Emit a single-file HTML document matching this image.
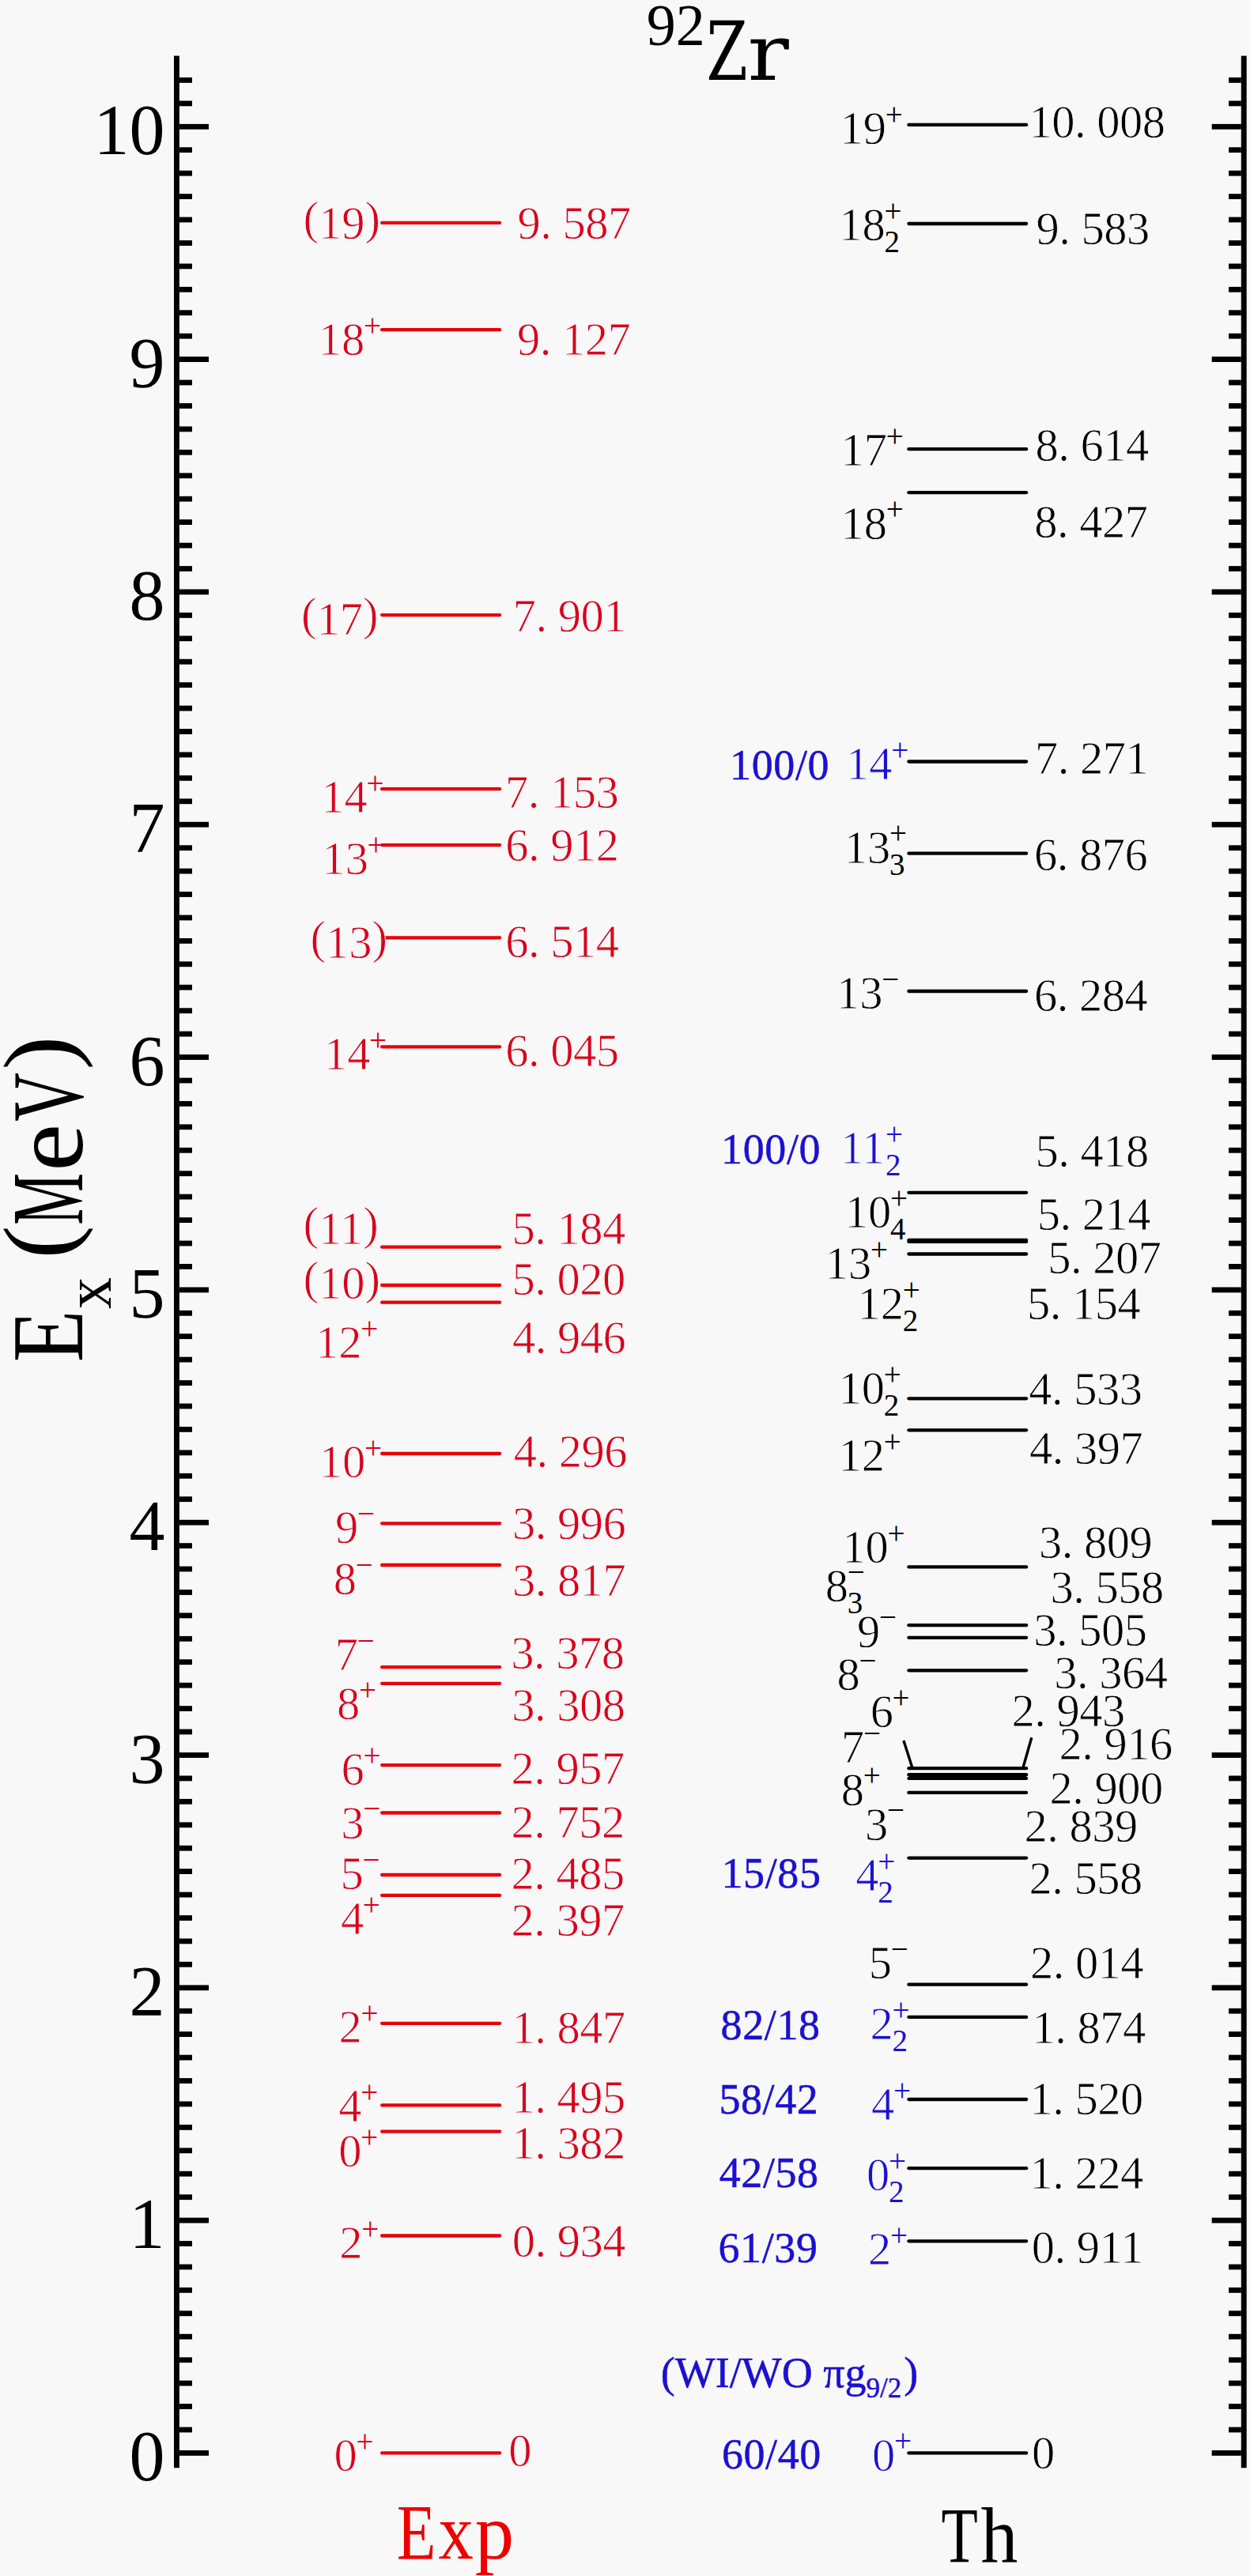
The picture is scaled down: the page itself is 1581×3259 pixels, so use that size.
<!DOCTYPE html>
<html><head><meta charset="utf-8"><title>92Zr level scheme</title>
<style>
html,body{margin:0;padding:0;background:#f8f8f8;}
svg{display:block;}
text{font-family:"Liberation Serif","Times New Roman",serif;}
.th{stroke:#f8f8f8;stroke-width:0.8px;}
.bb{stroke:#1c10d0;stroke-width:0.5px;}
</style></head>
<body>
<svg width="1581" height="3259" viewBox="0 0 1581 3259">
<rect x="0" y="0" width="1581" height="3259" fill="#f8f8f8"/>
<rect x="220.0" y="70.6" width="6.9" height="3051.6" fill="#000"/>
<rect x="1569.8" y="70.6" width="6.9" height="3051.6" fill="#000"/>
<rect x="226.9" y="3100.0" width="37.1" height="6.8" fill="#000"/>
<rect x="1532.7" y="3100.0" width="37.1" height="6.8" fill="#000"/>
<rect x="226.9" y="3070.6" width="16.1" height="6.8" fill="#000"/>
<rect x="1554.1" y="3070.6" width="15.7" height="6.8" fill="#000"/>
<rect x="226.9" y="3041.1" width="16.1" height="6.8" fill="#000"/>
<rect x="1554.1" y="3041.1" width="15.7" height="6.8" fill="#000"/>
<rect x="226.9" y="3011.7" width="16.1" height="6.8" fill="#000"/>
<rect x="1554.1" y="3011.7" width="15.7" height="6.8" fill="#000"/>
<rect x="226.9" y="2982.3" width="16.1" height="6.8" fill="#000"/>
<rect x="1554.1" y="2982.3" width="15.7" height="6.8" fill="#000"/>
<rect x="226.9" y="2952.8" width="16.1" height="6.8" fill="#000"/>
<rect x="1554.1" y="2952.8" width="15.7" height="6.8" fill="#000"/>
<rect x="226.9" y="2923.4" width="16.1" height="6.8" fill="#000"/>
<rect x="1554.1" y="2923.4" width="15.7" height="6.8" fill="#000"/>
<rect x="226.9" y="2894.0" width="16.1" height="6.8" fill="#000"/>
<rect x="1554.1" y="2894.0" width="15.7" height="6.8" fill="#000"/>
<rect x="226.9" y="2864.6" width="16.1" height="6.8" fill="#000"/>
<rect x="1554.1" y="2864.6" width="15.7" height="6.8" fill="#000"/>
<rect x="226.9" y="2835.1" width="16.1" height="6.8" fill="#000"/>
<rect x="1554.1" y="2835.1" width="15.7" height="6.8" fill="#000"/>
<rect x="226.9" y="2805.7" width="37.1" height="6.8" fill="#000"/>
<rect x="1532.7" y="2805.7" width="37.1" height="6.8" fill="#000"/>
<rect x="226.9" y="2776.3" width="16.1" height="6.8" fill="#000"/>
<rect x="1554.1" y="2776.3" width="15.7" height="6.8" fill="#000"/>
<rect x="226.9" y="2746.8" width="16.1" height="6.8" fill="#000"/>
<rect x="1554.1" y="2746.8" width="15.7" height="6.8" fill="#000"/>
<rect x="226.9" y="2717.4" width="16.1" height="6.8" fill="#000"/>
<rect x="1554.1" y="2717.4" width="15.7" height="6.8" fill="#000"/>
<rect x="226.9" y="2688.0" width="16.1" height="6.8" fill="#000"/>
<rect x="1554.1" y="2688.0" width="15.7" height="6.8" fill="#000"/>
<rect x="226.9" y="2658.5" width="16.1" height="6.8" fill="#000"/>
<rect x="1554.1" y="2658.5" width="15.7" height="6.8" fill="#000"/>
<rect x="226.9" y="2629.1" width="16.1" height="6.8" fill="#000"/>
<rect x="1554.1" y="2629.1" width="15.7" height="6.8" fill="#000"/>
<rect x="226.9" y="2599.7" width="16.1" height="6.8" fill="#000"/>
<rect x="1554.1" y="2599.7" width="15.7" height="6.8" fill="#000"/>
<rect x="226.9" y="2570.2" width="16.1" height="6.8" fill="#000"/>
<rect x="1554.1" y="2570.2" width="15.7" height="6.8" fill="#000"/>
<rect x="226.9" y="2540.8" width="16.1" height="6.8" fill="#000"/>
<rect x="1554.1" y="2540.8" width="15.7" height="6.8" fill="#000"/>
<rect x="226.9" y="2511.4" width="37.1" height="6.8" fill="#000"/>
<rect x="1532.7" y="2511.4" width="37.1" height="6.8" fill="#000"/>
<rect x="226.9" y="2481.9" width="16.1" height="6.8" fill="#000"/>
<rect x="1554.1" y="2481.9" width="15.7" height="6.8" fill="#000"/>
<rect x="226.9" y="2452.5" width="16.1" height="6.8" fill="#000"/>
<rect x="1554.1" y="2452.5" width="15.7" height="6.8" fill="#000"/>
<rect x="226.9" y="2423.1" width="16.1" height="6.8" fill="#000"/>
<rect x="1554.1" y="2423.1" width="15.7" height="6.8" fill="#000"/>
<rect x="226.9" y="2393.7" width="16.1" height="6.8" fill="#000"/>
<rect x="1554.1" y="2393.7" width="15.7" height="6.8" fill="#000"/>
<rect x="226.9" y="2364.2" width="16.1" height="6.8" fill="#000"/>
<rect x="1554.1" y="2364.2" width="15.7" height="6.8" fill="#000"/>
<rect x="226.9" y="2334.8" width="16.1" height="6.8" fill="#000"/>
<rect x="1554.1" y="2334.8" width="15.7" height="6.8" fill="#000"/>
<rect x="226.9" y="2305.4" width="16.1" height="6.8" fill="#000"/>
<rect x="1554.1" y="2305.4" width="15.7" height="6.8" fill="#000"/>
<rect x="226.9" y="2275.9" width="16.1" height="6.8" fill="#000"/>
<rect x="1554.1" y="2275.9" width="15.7" height="6.8" fill="#000"/>
<rect x="226.9" y="2246.5" width="16.1" height="6.8" fill="#000"/>
<rect x="1554.1" y="2246.5" width="15.7" height="6.8" fill="#000"/>
<rect x="226.9" y="2217.1" width="37.1" height="6.8" fill="#000"/>
<rect x="1532.7" y="2217.1" width="37.1" height="6.8" fill="#000"/>
<rect x="226.9" y="2187.6" width="16.1" height="6.8" fill="#000"/>
<rect x="1554.1" y="2187.6" width="15.7" height="6.8" fill="#000"/>
<rect x="226.9" y="2158.2" width="16.1" height="6.8" fill="#000"/>
<rect x="1554.1" y="2158.2" width="15.7" height="6.8" fill="#000"/>
<rect x="226.9" y="2128.8" width="16.1" height="6.8" fill="#000"/>
<rect x="1554.1" y="2128.8" width="15.7" height="6.8" fill="#000"/>
<rect x="226.9" y="2099.3" width="16.1" height="6.8" fill="#000"/>
<rect x="1554.1" y="2099.3" width="15.7" height="6.8" fill="#000"/>
<rect x="226.9" y="2069.9" width="16.1" height="6.8" fill="#000"/>
<rect x="1554.1" y="2069.9" width="15.7" height="6.8" fill="#000"/>
<rect x="226.9" y="2040.5" width="16.1" height="6.8" fill="#000"/>
<rect x="1554.1" y="2040.5" width="15.7" height="6.8" fill="#000"/>
<rect x="226.9" y="2011.1" width="16.1" height="6.8" fill="#000"/>
<rect x="1554.1" y="2011.1" width="15.7" height="6.8" fill="#000"/>
<rect x="226.9" y="1981.6" width="16.1" height="6.8" fill="#000"/>
<rect x="1554.1" y="1981.6" width="15.7" height="6.8" fill="#000"/>
<rect x="226.9" y="1952.2" width="16.1" height="6.8" fill="#000"/>
<rect x="1554.1" y="1952.2" width="15.7" height="6.8" fill="#000"/>
<rect x="226.9" y="1922.8" width="37.1" height="6.8" fill="#000"/>
<rect x="1532.7" y="1922.8" width="37.1" height="6.8" fill="#000"/>
<rect x="226.9" y="1893.3" width="16.1" height="6.8" fill="#000"/>
<rect x="1554.1" y="1893.3" width="15.7" height="6.8" fill="#000"/>
<rect x="226.9" y="1863.9" width="16.1" height="6.8" fill="#000"/>
<rect x="1554.1" y="1863.9" width="15.7" height="6.8" fill="#000"/>
<rect x="226.9" y="1834.5" width="16.1" height="6.8" fill="#000"/>
<rect x="1554.1" y="1834.5" width="15.7" height="6.8" fill="#000"/>
<rect x="226.9" y="1805.0" width="16.1" height="6.8" fill="#000"/>
<rect x="1554.1" y="1805.0" width="15.7" height="6.8" fill="#000"/>
<rect x="226.9" y="1775.6" width="16.1" height="6.8" fill="#000"/>
<rect x="1554.1" y="1775.6" width="15.7" height="6.8" fill="#000"/>
<rect x="226.9" y="1746.2" width="16.1" height="6.8" fill="#000"/>
<rect x="1554.1" y="1746.2" width="15.7" height="6.8" fill="#000"/>
<rect x="226.9" y="1716.7" width="16.1" height="6.8" fill="#000"/>
<rect x="1554.1" y="1716.7" width="15.7" height="6.8" fill="#000"/>
<rect x="226.9" y="1687.3" width="16.1" height="6.8" fill="#000"/>
<rect x="1554.1" y="1687.3" width="15.7" height="6.8" fill="#000"/>
<rect x="226.9" y="1657.9" width="16.1" height="6.8" fill="#000"/>
<rect x="1554.1" y="1657.9" width="15.7" height="6.8" fill="#000"/>
<rect x="226.9" y="1628.5" width="37.1" height="6.8" fill="#000"/>
<rect x="1532.7" y="1628.5" width="37.1" height="6.8" fill="#000"/>
<rect x="226.9" y="1599.0" width="16.1" height="6.8" fill="#000"/>
<rect x="1554.1" y="1599.0" width="15.7" height="6.8" fill="#000"/>
<rect x="226.9" y="1569.6" width="16.1" height="6.8" fill="#000"/>
<rect x="1554.1" y="1569.6" width="15.7" height="6.8" fill="#000"/>
<rect x="226.9" y="1540.2" width="16.1" height="6.8" fill="#000"/>
<rect x="1554.1" y="1540.2" width="15.7" height="6.8" fill="#000"/>
<rect x="226.9" y="1510.7" width="16.1" height="6.8" fill="#000"/>
<rect x="1554.1" y="1510.7" width="15.7" height="6.8" fill="#000"/>
<rect x="226.9" y="1481.3" width="16.1" height="6.8" fill="#000"/>
<rect x="1554.1" y="1481.3" width="15.7" height="6.8" fill="#000"/>
<rect x="226.9" y="1451.9" width="16.1" height="6.8" fill="#000"/>
<rect x="1554.1" y="1451.9" width="15.7" height="6.8" fill="#000"/>
<rect x="226.9" y="1422.4" width="16.1" height="6.8" fill="#000"/>
<rect x="1554.1" y="1422.4" width="15.7" height="6.8" fill="#000"/>
<rect x="226.9" y="1393.0" width="16.1" height="6.8" fill="#000"/>
<rect x="1554.1" y="1393.0" width="15.7" height="6.8" fill="#000"/>
<rect x="226.9" y="1363.6" width="16.1" height="6.8" fill="#000"/>
<rect x="1554.1" y="1363.6" width="15.7" height="6.8" fill="#000"/>
<rect x="226.9" y="1334.1" width="37.1" height="6.8" fill="#000"/>
<rect x="1532.7" y="1334.1" width="37.1" height="6.8" fill="#000"/>
<rect x="226.9" y="1304.7" width="16.1" height="6.8" fill="#000"/>
<rect x="1554.1" y="1304.7" width="15.7" height="6.8" fill="#000"/>
<rect x="226.9" y="1275.3" width="16.1" height="6.8" fill="#000"/>
<rect x="1554.1" y="1275.3" width="15.7" height="6.8" fill="#000"/>
<rect x="226.9" y="1245.8" width="16.1" height="6.8" fill="#000"/>
<rect x="1554.1" y="1245.8" width="15.7" height="6.8" fill="#000"/>
<rect x="226.9" y="1216.4" width="16.1" height="6.8" fill="#000"/>
<rect x="1554.1" y="1216.4" width="15.7" height="6.8" fill="#000"/>
<rect x="226.9" y="1187.0" width="16.1" height="6.8" fill="#000"/>
<rect x="1554.1" y="1187.0" width="15.7" height="6.8" fill="#000"/>
<rect x="226.9" y="1157.6" width="16.1" height="6.8" fill="#000"/>
<rect x="1554.1" y="1157.6" width="15.7" height="6.8" fill="#000"/>
<rect x="226.9" y="1128.1" width="16.1" height="6.8" fill="#000"/>
<rect x="1554.1" y="1128.1" width="15.7" height="6.8" fill="#000"/>
<rect x="226.9" y="1098.7" width="16.1" height="6.8" fill="#000"/>
<rect x="1554.1" y="1098.7" width="15.7" height="6.8" fill="#000"/>
<rect x="226.9" y="1069.3" width="16.1" height="6.8" fill="#000"/>
<rect x="1554.1" y="1069.3" width="15.7" height="6.8" fill="#000"/>
<rect x="226.9" y="1039.8" width="37.1" height="6.8" fill="#000"/>
<rect x="1532.7" y="1039.8" width="37.1" height="6.8" fill="#000"/>
<rect x="226.9" y="1010.4" width="16.1" height="6.8" fill="#000"/>
<rect x="1554.1" y="1010.4" width="15.7" height="6.8" fill="#000"/>
<rect x="226.9" y="981.0" width="16.1" height="6.8" fill="#000"/>
<rect x="1554.1" y="981.0" width="15.7" height="6.8" fill="#000"/>
<rect x="226.9" y="951.5" width="16.1" height="6.8" fill="#000"/>
<rect x="1554.1" y="951.5" width="15.7" height="6.8" fill="#000"/>
<rect x="226.9" y="922.1" width="16.1" height="6.8" fill="#000"/>
<rect x="1554.1" y="922.1" width="15.7" height="6.8" fill="#000"/>
<rect x="226.9" y="892.7" width="16.1" height="6.8" fill="#000"/>
<rect x="1554.1" y="892.7" width="15.7" height="6.8" fill="#000"/>
<rect x="226.9" y="863.2" width="16.1" height="6.8" fill="#000"/>
<rect x="1554.1" y="863.2" width="15.7" height="6.8" fill="#000"/>
<rect x="226.9" y="833.8" width="16.1" height="6.8" fill="#000"/>
<rect x="1554.1" y="833.8" width="15.7" height="6.8" fill="#000"/>
<rect x="226.9" y="804.4" width="16.1" height="6.8" fill="#000"/>
<rect x="1554.1" y="804.4" width="15.7" height="6.8" fill="#000"/>
<rect x="226.9" y="775.0" width="16.1" height="6.8" fill="#000"/>
<rect x="1554.1" y="775.0" width="15.7" height="6.8" fill="#000"/>
<rect x="226.9" y="745.5" width="37.1" height="6.8" fill="#000"/>
<rect x="1532.7" y="745.5" width="37.1" height="6.8" fill="#000"/>
<rect x="226.9" y="716.1" width="16.1" height="6.8" fill="#000"/>
<rect x="1554.1" y="716.1" width="15.7" height="6.8" fill="#000"/>
<rect x="226.9" y="686.7" width="16.1" height="6.8" fill="#000"/>
<rect x="1554.1" y="686.7" width="15.7" height="6.8" fill="#000"/>
<rect x="226.9" y="657.2" width="16.1" height="6.8" fill="#000"/>
<rect x="1554.1" y="657.2" width="15.7" height="6.8" fill="#000"/>
<rect x="226.9" y="627.8" width="16.1" height="6.8" fill="#000"/>
<rect x="1554.1" y="627.8" width="15.7" height="6.8" fill="#000"/>
<rect x="226.9" y="598.4" width="16.1" height="6.8" fill="#000"/>
<rect x="1554.1" y="598.4" width="15.7" height="6.8" fill="#000"/>
<rect x="226.9" y="568.9" width="16.1" height="6.8" fill="#000"/>
<rect x="1554.1" y="568.9" width="15.7" height="6.8" fill="#000"/>
<rect x="226.9" y="539.5" width="16.1" height="6.8" fill="#000"/>
<rect x="1554.1" y="539.5" width="15.7" height="6.8" fill="#000"/>
<rect x="226.9" y="510.1" width="16.1" height="6.8" fill="#000"/>
<rect x="1554.1" y="510.1" width="15.7" height="6.8" fill="#000"/>
<rect x="226.9" y="480.6" width="16.1" height="6.8" fill="#000"/>
<rect x="1554.1" y="480.6" width="15.7" height="6.8" fill="#000"/>
<rect x="226.9" y="451.2" width="37.1" height="6.8" fill="#000"/>
<rect x="1532.7" y="451.2" width="37.1" height="6.8" fill="#000"/>
<rect x="226.9" y="421.8" width="16.1" height="6.8" fill="#000"/>
<rect x="1554.1" y="421.8" width="15.7" height="6.8" fill="#000"/>
<rect x="226.9" y="392.3" width="16.1" height="6.8" fill="#000"/>
<rect x="1554.1" y="392.3" width="15.7" height="6.8" fill="#000"/>
<rect x="226.9" y="362.9" width="16.1" height="6.8" fill="#000"/>
<rect x="1554.1" y="362.9" width="15.7" height="6.8" fill="#000"/>
<rect x="226.9" y="333.5" width="16.1" height="6.8" fill="#000"/>
<rect x="1554.1" y="333.5" width="15.7" height="6.8" fill="#000"/>
<rect x="226.9" y="304.1" width="16.1" height="6.8" fill="#000"/>
<rect x="1554.1" y="304.1" width="15.7" height="6.8" fill="#000"/>
<rect x="226.9" y="274.6" width="16.1" height="6.8" fill="#000"/>
<rect x="1554.1" y="274.6" width="15.7" height="6.8" fill="#000"/>
<rect x="226.9" y="245.2" width="16.1" height="6.8" fill="#000"/>
<rect x="1554.1" y="245.2" width="15.7" height="6.8" fill="#000"/>
<rect x="226.9" y="215.8" width="16.1" height="6.8" fill="#000"/>
<rect x="1554.1" y="215.8" width="15.7" height="6.8" fill="#000"/>
<rect x="226.9" y="186.3" width="16.1" height="6.8" fill="#000"/>
<rect x="1554.1" y="186.3" width="15.7" height="6.8" fill="#000"/>
<rect x="226.9" y="156.9" width="37.1" height="6.8" fill="#000"/>
<rect x="1532.7" y="156.9" width="37.1" height="6.8" fill="#000"/>
<rect x="226.9" y="127.5" width="16.1" height="6.8" fill="#000"/>
<rect x="1554.1" y="127.5" width="15.7" height="6.8" fill="#000"/>
<rect x="226.9" y="98.0" width="16.1" height="6.8" fill="#000"/>
<rect x="1554.1" y="98.0" width="15.7" height="6.8" fill="#000"/>
<text x="208.4" y="3138.4" font-size="90" fill="#000" text-anchor="end">0</text>
<text x="208.4" y="2844.1" font-size="90" fill="#000" text-anchor="end">1</text>
<text x="208.4" y="2549.8" font-size="90" fill="#000" text-anchor="end">2</text>
<text x="208.4" y="2255.5" font-size="90" fill="#000" text-anchor="end">3</text>
<text x="208.4" y="1961.2" font-size="90" fill="#000" text-anchor="end">4</text>
<text x="208.4" y="1666.9" font-size="90" fill="#000" text-anchor="end">5</text>
<text x="208.4" y="1372.5" font-size="90" fill="#000" text-anchor="end">6</text>
<text x="208.4" y="1078.2" font-size="90" fill="#000" text-anchor="end">7</text>
<text x="208.4" y="783.9" font-size="90" fill="#000" text-anchor="end">8</text>
<text x="208.4" y="489.6" font-size="90" fill="#000" text-anchor="end">9</text>
<text x="208.4" y="195.3" font-size="90" fill="#000" text-anchor="end">10</text>
<text x="817.8" y="56.8" font-size="74" fill="#000">92</text>
<text transform="translate(893.4,101.0) scale(0.731,1)" font-size="102.6" fill="#000" style="font-family:'DejaVu Serif',serif">Z</text>
<text transform="translate(945.6,101.0) scale(1.106,1)" font-size="99" fill="#000" style="font-family:'DejaVu Serif',serif">r</text>
<text transform="translate(104.2,1723.2) rotate(-90) scale(0.827,1)" font-size="130" fill="#000">E</text>
<text transform="translate(140.0,1655.9) rotate(-90) scale(0.943,1)" font-size="85" fill="#000">x</text>
<text transform="translate(90.6,1592.5) rotate(-90) scale(1.018,1)" font-size="124.3" fill="#000">(</text>
<text transform="translate(104.2,1549.7) rotate(-90) scale(0.569,1)" font-size="130" fill="#000">M</text>
<text transform="translate(104.2,1482.0) rotate(-90) scale(1.045,1)" font-size="130" fill="#000">e</text>
<text transform="translate(104.2,1418.8) rotate(-90) scale(0.657,1)" font-size="130" fill="#000">V</text>
<text transform="translate(90.6,1353.7) rotate(-90) scale(1.043,1)" font-size="124.3" fill="#000">)</text>
<text transform="translate(501.7,3237.2) scale(0.812,1)" font-size="100" fill="#ee0000">E</text>
<text transform="translate(554.4,3237.2) scale(0.885,1)" font-size="100" fill="#ee0000">x</text>
<text transform="translate(600.8,3237.2) scale(0.989,1)" font-size="100" fill="#ee0000">p</text>
<text transform="translate(1190.6,3241.1) scale(0.758,1)" font-size="100" fill="#000">T</text>
<text transform="translate(1240.5,3241.1) scale(0.937,1)" font-size="100" fill="#000">h</text>
<line x1="483.1" y1="281.9" x2="632.1" y2="281.9" stroke="#e8000a" stroke-width="4.3" stroke-linecap="round"/>
<line x1="483.1" y1="417.2" x2="632.1" y2="417.2" stroke="#e8000a" stroke-width="4.3" stroke-linecap="round"/>
<line x1="483.1" y1="778.1" x2="632.1" y2="778.1" stroke="#e8000a" stroke-width="4.3" stroke-linecap="round"/>
<line x1="483.1" y1="998.2" x2="632.1" y2="998.2" stroke="#e8000a" stroke-width="4.3" stroke-linecap="round"/>
<line x1="483.1" y1="1069.1" x2="632.1" y2="1069.1" stroke="#e8000a" stroke-width="4.3" stroke-linecap="round"/>
<line x1="483.1" y1="1186.3" x2="632.1" y2="1186.3" stroke="#e8000a" stroke-width="4.3" stroke-linecap="round"/>
<line x1="483.1" y1="1324.3" x2="632.1" y2="1324.3" stroke="#e8000a" stroke-width="4.3" stroke-linecap="round"/>
<line x1="483.1" y1="1577.7" x2="632.1" y2="1577.7" stroke="#e8000a" stroke-width="4.3" stroke-linecap="round"/>
<line x1="483.1" y1="1626.0" x2="632.1" y2="1626.0" stroke="#e8000a" stroke-width="4.3" stroke-linecap="round"/>
<line x1="483.1" y1="1647.7" x2="632.1" y2="1647.7" stroke="#e8000a" stroke-width="4.3" stroke-linecap="round"/>
<line x1="483.1" y1="1839.0" x2="632.1" y2="1839.0" stroke="#e8000a" stroke-width="4.3" stroke-linecap="round"/>
<line x1="483.1" y1="1927.3" x2="632.1" y2="1927.3" stroke="#e8000a" stroke-width="4.3" stroke-linecap="round"/>
<line x1="483.1" y1="1980.0" x2="632.1" y2="1980.0" stroke="#e8000a" stroke-width="4.3" stroke-linecap="round"/>
<line x1="483.1" y1="2109.2" x2="632.1" y2="2109.2" stroke="#e8000a" stroke-width="4.3" stroke-linecap="round"/>
<line x1="483.1" y1="2129.8" x2="632.1" y2="2129.8" stroke="#e8000a" stroke-width="4.3" stroke-linecap="round"/>
<line x1="483.1" y1="2233.1" x2="632.1" y2="2233.1" stroke="#e8000a" stroke-width="4.3" stroke-linecap="round"/>
<line x1="483.1" y1="2293.5" x2="632.1" y2="2293.5" stroke="#e8000a" stroke-width="4.3" stroke-linecap="round"/>
<line x1="483.1" y1="2372.0" x2="632.1" y2="2372.0" stroke="#e8000a" stroke-width="4.3" stroke-linecap="round"/>
<line x1="483.1" y1="2397.9" x2="632.1" y2="2397.9" stroke="#e8000a" stroke-width="4.3" stroke-linecap="round"/>
<line x1="483.1" y1="2559.8" x2="632.1" y2="2559.8" stroke="#e8000a" stroke-width="4.3" stroke-linecap="round"/>
<line x1="483.1" y1="2663.4" x2="632.1" y2="2663.4" stroke="#e8000a" stroke-width="4.3" stroke-linecap="round"/>
<line x1="483.1" y1="2696.7" x2="632.1" y2="2696.7" stroke="#e8000a" stroke-width="4.3" stroke-linecap="round"/>
<line x1="483.1" y1="2828.5" x2="632.1" y2="2828.5" stroke="#e8000a" stroke-width="4.3" stroke-linecap="round"/>
<line x1="483.1" y1="3103.4" x2="632.1" y2="3103.4" stroke="#e8000a" stroke-width="4.3" stroke-linecap="round"/>
<line x1="1149.4" y1="157.9" x2="1298.1" y2="157.9" stroke="#000" stroke-width="4.3" stroke-linecap="round"/>
<line x1="1149.4" y1="283.0" x2="1298.1" y2="283.0" stroke="#000" stroke-width="4.3" stroke-linecap="round"/>
<line x1="1149.4" y1="568.2" x2="1298.1" y2="568.2" stroke="#000" stroke-width="4.3" stroke-linecap="round"/>
<line x1="1149.4" y1="623.2" x2="1298.1" y2="623.2" stroke="#000" stroke-width="4.3" stroke-linecap="round"/>
<line x1="1149.4" y1="963.5" x2="1298.1" y2="963.5" stroke="#000" stroke-width="4.3" stroke-linecap="round"/>
<line x1="1149.4" y1="1079.7" x2="1298.1" y2="1079.7" stroke="#000" stroke-width="4.3" stroke-linecap="round"/>
<line x1="1149.4" y1="1254.0" x2="1298.1" y2="1254.0" stroke="#000" stroke-width="4.3" stroke-linecap="round"/>
<line x1="1149.4" y1="1508.8" x2="1298.1" y2="1508.8" stroke="#000" stroke-width="4.3" stroke-linecap="round"/>
<line x1="1149.4" y1="1568.9" x2="1298.1" y2="1568.9" stroke="#000" stroke-width="4.3" stroke-linecap="round"/>
<line x1="1149.4" y1="1570.9" x2="1298.1" y2="1570.9" stroke="#000" stroke-width="4.3" stroke-linecap="round"/>
<line x1="1149.4" y1="1586.5" x2="1298.1" y2="1586.5" stroke="#000" stroke-width="4.3" stroke-linecap="round"/>
<line x1="1149.4" y1="1769.3" x2="1298.1" y2="1769.3" stroke="#000" stroke-width="4.3" stroke-linecap="round"/>
<line x1="1149.4" y1="1809.3" x2="1298.1" y2="1809.3" stroke="#000" stroke-width="4.3" stroke-linecap="round"/>
<line x1="1149.4" y1="1982.4" x2="1298.1" y2="1982.4" stroke="#000" stroke-width="4.3" stroke-linecap="round"/>
<line x1="1149.4" y1="2056.2" x2="1298.1" y2="2056.2" stroke="#000" stroke-width="4.3" stroke-linecap="round"/>
<line x1="1149.4" y1="2071.8" x2="1298.1" y2="2071.8" stroke="#000" stroke-width="4.3" stroke-linecap="round"/>
<line x1="1149.4" y1="2113.3" x2="1298.1" y2="2113.3" stroke="#000" stroke-width="4.3" stroke-linecap="round"/>
<line x1="1149.4" y1="2237.2" x2="1298.1" y2="2237.2" stroke="#000" stroke-width="4.3" stroke-linecap="round"/>
<line x1="1149.4" y1="2245.2" x2="1298.1" y2="2245.2" stroke="#000" stroke-width="4.3" stroke-linecap="round"/>
<line x1="1149.4" y1="2249.9" x2="1298.1" y2="2249.9" stroke="#000" stroke-width="4.3" stroke-linecap="round"/>
<line x1="1149.4" y1="2267.9" x2="1298.1" y2="2267.9" stroke="#000" stroke-width="4.3" stroke-linecap="round"/>
<line x1="1149.4" y1="2350.6" x2="1298.1" y2="2350.6" stroke="#000" stroke-width="4.3" stroke-linecap="round"/>
<line x1="1149.4" y1="2510.7" x2="1298.1" y2="2510.7" stroke="#000" stroke-width="4.3" stroke-linecap="round"/>
<line x1="1149.4" y1="2551.9" x2="1298.1" y2="2551.9" stroke="#000" stroke-width="4.3" stroke-linecap="round"/>
<line x1="1149.4" y1="2656.0" x2="1298.1" y2="2656.0" stroke="#000" stroke-width="4.3" stroke-linecap="round"/>
<line x1="1149.4" y1="2743.2" x2="1298.1" y2="2743.2" stroke="#000" stroke-width="4.3" stroke-linecap="round"/>
<line x1="1149.4" y1="2835.3" x2="1298.1" y2="2835.3" stroke="#000" stroke-width="4.3" stroke-linecap="round"/>
<line x1="1149.4" y1="3103.4" x2="1298.1" y2="3103.4" stroke="#000" stroke-width="4.3" stroke-linecap="round"/>
<rect x="1149.4" y="2245.2" width="148.7" height="4.7" fill="#000"/>
<line x1="1142.9" y1="2202.0" x2="1153.6" y2="2235.5" stroke="#000" stroke-width="3.4" stroke-linecap="butt"/>
<line x1="1304.8" y1="2198.2" x2="1294.2" y2="2235.5" stroke="#000" stroke-width="3.4" stroke-linecap="butt"/>
<text x="383.4" y="296.0" font-size="58.5" fill="#d8001c" class="th">(<tspan dy="6">19</tspan><tspan dy="-6">)</tspan></text>
<text x="654.4" y="302.0" font-size="58.5" fill="#d8001c" letter-spacing="-0.5" class="th">9. 587</text>
<text x="402.7" y="449.0" font-size="58.5" fill="#d8001c" class="th">18</text>
<text x="459.9" y="424.9" font-size="39.0" fill="#d8001c">+</text>
<text x="654.1" y="449.0" font-size="58.5" fill="#d8001c" letter-spacing="-0.5" class="th">9. 127</text>
<text x="381.1" y="797.0" font-size="58.5" fill="#d8001c" class="th">(<tspan dy="6">17</tspan><tspan dy="-6">)</tspan></text>
<text x="648.7" y="798.7" font-size="58.5" fill="#d8001c" letter-spacing="-0.5" class="th">7. 901</text>
<text x="406.3" y="1027.8" font-size="58.5" fill="#d8001c" class="th">14</text>
<text x="463.5" y="1003.7" font-size="39.0" fill="#d8001c">+</text>
<text x="639.0" y="1022.0" font-size="58.5" fill="#d8001c" letter-spacing="-0.5" class="th">7. 153</text>
<text x="407.4" y="1105.7" font-size="58.5" fill="#d8001c" class="th">13</text>
<text x="464.6" y="1081.6" font-size="39.0" fill="#d8001c">+</text>
<text x="639.3" y="1088.8" font-size="58.5" fill="#d8001c" letter-spacing="-0.5" class="th">6. 912</text>
<text x="392.6" y="1206.0" font-size="58.5" fill="#d8001c" class="th">(<tspan dy="6">13</tspan><tspan dy="-6">)</tspan></text>
<text x="639.3" y="1211.2" font-size="58.5" fill="#d8001c" letter-spacing="-0.5" class="th">6. 514</text>
<text x="409.9" y="1352.8" font-size="58.5" fill="#d8001c" class="th">14</text>
<text x="467.1" y="1328.7" font-size="39.0" fill="#d8001c">+</text>
<text x="639.3" y="1348.7" font-size="58.5" fill="#d8001c" letter-spacing="-0.5" class="th">6. 045</text>
<text x="383.4" y="1567.8" font-size="58.5" fill="#d8001c" class="th">(<tspan dy="6">11</tspan><tspan dy="-6">)</tspan></text>
<text x="647.4" y="1574.4" font-size="58.5" fill="#d8001c" letter-spacing="-0.5" class="th">5. 184</text>
<text x="383.4" y="1636.8" font-size="58.5" fill="#d8001c" class="th">(<tspan dy="6">10</tspan><tspan dy="-6">)</tspan></text>
<text x="647.4" y="1638.1" font-size="58.5" fill="#d8001c" letter-spacing="-0.5" class="th">5. 020</text>
<text x="399.1" y="1717.8" font-size="58.5" fill="#d8001c" class="th">12</text>
<text x="456.3" y="1693.7" font-size="39.0" fill="#d8001c">+</text>
<text x="647.9" y="1711.9" font-size="58.5" fill="#d8001c" letter-spacing="-0.5" class="th">4. 946</text>
<text x="403.8" y="1868.8" font-size="58.5" fill="#d8001c" class="th">10</text>
<text x="461.0" y="1844.7" font-size="39.0" fill="#d8001c">+</text>
<text x="649.7" y="1855.8" font-size="58.5" fill="#d8001c" letter-spacing="-0.5" class="th">4. 296</text>
<text x="423.9" y="1952.3" font-size="58.5" fill="#d8001c" class="th">9</text>
<text x="451.9" y="1928.2" font-size="39.0" fill="#d8001c">−</text>
<text x="648.0" y="1946.9" font-size="58.5" fill="#d8001c" letter-spacing="-0.5" class="th">3. 996</text>
<text x="421.8" y="2017.1" font-size="58.5" fill="#d8001c" class="th">8</text>
<text x="449.7" y="1993.0" font-size="39.0" fill="#d8001c">−</text>
<text x="648.0" y="2019.0" font-size="58.5" fill="#d8001c" letter-spacing="-0.5" class="th">3. 817</text>
<text x="423.7" y="2113.0" font-size="58.5" fill="#d8001c" class="th">7</text>
<text x="451.7" y="2088.9" font-size="39.0" fill="#d8001c">−</text>
<text x="646.2" y="2111.4" font-size="58.5" fill="#d8001c" letter-spacing="-0.5" class="th">3. 378</text>
<text x="426.1" y="2175.1" font-size="58.5" fill="#d8001c" class="th">8</text>
<text x="454.0" y="2151.0" font-size="39.0" fill="#d8001c">+</text>
<text x="647.2" y="2176.9" font-size="58.5" fill="#d8001c" letter-spacing="-0.5" class="th">3. 308</text>
<text x="431.5" y="2257.9" font-size="58.5" fill="#d8001c" class="th">6</text>
<text x="459.4" y="2233.8" font-size="39.0" fill="#d8001c">+</text>
<text x="646.4" y="2256.6" font-size="58.5" fill="#d8001c" letter-spacing="-0.5" class="th">2. 957</text>
<text x="431.2" y="2325.5" font-size="58.5" fill="#d8001c" class="th">3</text>
<text x="459.2" y="2301.4" font-size="39.0" fill="#d8001c">−</text>
<text x="646.4" y="2325.0" font-size="58.5" fill="#d8001c" letter-spacing="-0.5" class="th">2. 752</text>
<text x="430.6" y="2390.4" font-size="58.5" fill="#d8001c" class="th">5</text>
<text x="458.6" y="2366.3" font-size="39.0" fill="#d8001c">−</text>
<text x="646.4" y="2389.8" font-size="58.5" fill="#d8001c" letter-spacing="-0.5" class="th">2. 485</text>
<text x="430.9" y="2447.4" font-size="58.5" fill="#d8001c" class="th">4</text>
<text x="458.8" y="2423.3" font-size="39.0" fill="#d8001c">+</text>
<text x="646.4" y="2448.6" font-size="58.5" fill="#d8001c" letter-spacing="-0.5" class="th">2. 397</text>
<text x="428.6" y="2584.3" font-size="58.5" fill="#d8001c" class="th">2</text>
<text x="456.6" y="2560.2" font-size="39.0" fill="#d8001c">+</text>
<text x="647.5" y="2585.4" font-size="58.5" fill="#d8001c" letter-spacing="-0.5" class="th">1. 847</text>
<text x="428.3" y="2684.4" font-size="58.5" fill="#d8001c" class="th">4</text>
<text x="456.2" y="2660.3" font-size="39.0" fill="#d8001c">+</text>
<text x="647.5" y="2672.9" font-size="58.5" fill="#d8001c" letter-spacing="-0.5" class="th">1. 495</text>
<text x="428.3" y="2740.8" font-size="58.5" fill="#d8001c" class="th">0</text>
<text x="456.2" y="2716.7" font-size="39.0" fill="#d8001c">+</text>
<text x="647.5" y="2730.5" font-size="58.5" fill="#d8001c" letter-spacing="-0.5" class="th">1. 382</text>
<text x="429.3" y="2857.3" font-size="58.5" fill="#d8001c" class="th">2</text>
<text x="457.3" y="2833.2" font-size="39.0" fill="#d8001c">+</text>
<text x="647.8" y="2854.6" font-size="58.5" fill="#d8001c" letter-spacing="-0.5" class="th">0. 934</text>
<text x="422.5" y="3125.7" font-size="58.5" fill="#d8001c" class="th">0</text>
<text x="450.4" y="3101.6" font-size="39.0" fill="#d8001c">+</text>
<text x="643.2" y="3120.3" font-size="58.5" fill="#d8001c" letter-spacing="-0.5" class="th">0</text>
<text x="1062.5" y="182.3" font-size="58.5" fill="#000" class="th">19</text>
<text x="1119.7" y="158.2" font-size="39.0" fill="#000">+</text>
<text x="1301.4" y="174.2" font-size="58.5" fill="#000" letter-spacing="-0.5" class="th">10. 008</text>
<text x="1061.2" y="304.1" font-size="58.5" fill="#000" class="th">18</text>
<text x="1118.4" y="280.0" font-size="39.0" fill="#000">+</text>
<text x="1118.4" y="319.1" font-size="39.0" fill="#000">2</text>
<text x="1310.5" y="308.5" font-size="58.5" fill="#000" letter-spacing="-0.5" class="th">9. 583</text>
<text x="1063.6" y="589.2" font-size="58.5" fill="#000" class="th">17</text>
<text x="1120.8" y="565.1" font-size="39.0" fill="#000">+</text>
<text x="1309.4" y="583.3" font-size="58.5" fill="#000" letter-spacing="-0.5" class="th">8. 614</text>
<text x="1063.6" y="681.5" font-size="58.5" fill="#000" class="th">18</text>
<text x="1120.8" y="657.4" font-size="39.0" fill="#000">+</text>
<text x="1308.3" y="680.1" font-size="58.5" fill="#000" letter-spacing="-0.5" class="th">8. 427</text>
<text x="1070.1" y="986.4" font-size="58.5" fill="#1c10d0" class="th">14</text>
<text x="1127.3" y="962.3" font-size="39.0" fill="#1c10d0">+</text>
<text x="1308.9" y="979.2" font-size="58.5" fill="#000" letter-spacing="-0.5" class="th">7. 271</text>
<text x="1067.7" y="1091.5" font-size="58.5" fill="#000" class="th">13</text>
<text x="1124.9" y="1067.4" font-size="39.0" fill="#000">+</text>
<text x="1124.9" y="1106.5" font-size="39.0" fill="#000">3</text>
<text x="1308.0" y="1101.1" font-size="58.5" fill="#000" letter-spacing="-0.5" class="th">6. 876</text>
<text x="1058.1" y="1276.4" font-size="58.5" fill="#000" class="th">13</text>
<text x="1115.3" y="1252.3" font-size="39.0" fill="#000">−</text>
<text x="1308.0" y="1279.3" font-size="58.5" fill="#000" letter-spacing="-0.5" class="th">6. 284</text>
<text x="1062.9" y="1472.0" font-size="58.5" fill="#1c10d0" class="th">11</text>
<text x="1120.1" y="1447.9" font-size="39.0" fill="#1c10d0">+</text>
<text x="1120.1" y="1487.0" font-size="39.0" fill="#1c10d0">2</text>
<text x="1309.4" y="1476.3" font-size="58.5" fill="#000" letter-spacing="-0.5" class="th">5. 418</text>
<text x="1068.7" y="1553.1" font-size="58.5" fill="#000" class="th">10</text>
<text x="1125.9" y="1529.0" font-size="39.0" fill="#000">+</text>
<text x="1125.9" y="1568.1" font-size="39.0" fill="#000">4</text>
<text x="1311.8" y="1556.0" font-size="58.5" fill="#000" letter-spacing="-0.5" class="th">5. 214</text>
<text x="1043.7" y="1617.9" font-size="58.5" fill="#000" class="th">13</text>
<text x="1100.9" y="1593.8" font-size="39.0" fill="#000">+</text>
<text x="1325.3" y="1611.2" font-size="58.5" fill="#000" letter-spacing="-0.5" class="th">5. 207</text>
<text x="1084.5" y="1668.8" font-size="58.5" fill="#000" class="th">12</text>
<text x="1141.7" y="1644.7" font-size="39.0" fill="#000">+</text>
<text x="1141.7" y="1683.8" font-size="39.0" fill="#000">2</text>
<text x="1298.9" y="1668.8" font-size="58.5" fill="#000" letter-spacing="-0.5" class="th">5. 154</text>
<text x="1060.5" y="1776.3" font-size="58.5" fill="#000" class="th">10</text>
<text x="1117.7" y="1752.2" font-size="39.0" fill="#000">+</text>
<text x="1117.7" y="1791.3" font-size="39.0" fill="#000">2</text>
<text x="1301.2" y="1777.3" font-size="58.5" fill="#000" letter-spacing="-0.5" class="th">4. 533</text>
<text x="1060.5" y="1860.8" font-size="58.5" fill="#000" class="th">12</text>
<text x="1117.7" y="1836.7" font-size="39.0" fill="#000">+</text>
<text x="1302.1" y="1852.2" font-size="58.5" fill="#000" letter-spacing="-0.5" class="th">4. 397</text>
<text x="1065.3" y="1977.0" font-size="58.5" fill="#000" class="th">10</text>
<text x="1122.5" y="1952.9" font-size="39.0" fill="#000">+</text>
<text x="1313.9" y="1970.7" font-size="58.5" fill="#000" letter-spacing="-0.5" class="th">3. 809</text>
<text x="1043.8" y="2026.3" font-size="58.5" fill="#000" class="th">8</text>
<text x="1071.7" y="2002.2" font-size="39.0" fill="#000">−</text>
<text x="1071.7" y="2041.3" font-size="39.0" fill="#000">3</text>
<text x="1328.4" y="2027.5" font-size="58.5" fill="#000" letter-spacing="-0.5" class="th">3. 558</text>
<text x="1084.1" y="2083.5" font-size="58.5" fill="#000" class="th">9</text>
<text x="1112.1" y="2059.4" font-size="39.0" fill="#000">−</text>
<text x="1307.2" y="2081.5" font-size="58.5" fill="#000" letter-spacing="-0.5" class="th">3. 505</text>
<text x="1058.6" y="2138.3" font-size="58.5" fill="#000" class="th">8</text>
<text x="1086.5" y="2114.2" font-size="39.0" fill="#000">−</text>
<text x="1333.2" y="2136.0" font-size="58.5" fill="#000" letter-spacing="-0.5" class="th">3. 364</text>
<text x="1100.7" y="2184.7" font-size="58.5" fill="#000" class="th">6</text>
<text x="1128.6" y="2160.6" font-size="39.0" fill="#000">+</text>
<text x="1279.4" y="2183.5" font-size="58.5" fill="#000" letter-spacing="-0.5" class="th">2. 943</text>
<text x="1064.1" y="2230.0" font-size="58.5" fill="#000" class="th">7</text>
<text x="1092.1" y="2205.9" font-size="39.0" fill="#000">−</text>
<text x="1339.4" y="2226.3" font-size="58.5" fill="#000" letter-spacing="-0.5" class="th">2. 916</text>
<text x="1063.8" y="2283.5" font-size="58.5" fill="#000" class="th">8</text>
<text x="1091.7" y="2259.4" font-size="39.0" fill="#000">+</text>
<text x="1327.4" y="2281.5" font-size="58.5" fill="#000" letter-spacing="-0.5" class="th">2. 900</text>
<text x="1094.0" y="2327.5" font-size="58.5" fill="#000" class="th">3</text>
<text x="1122.0" y="2303.4" font-size="39.0" fill="#000">−</text>
<text x="1295.4" y="2329.5" font-size="58.5" fill="#000" letter-spacing="-0.5" class="th">2. 839</text>
<text x="1082.3" y="2391.8" font-size="58.5" fill="#1c10d0" class="th">4</text>
<text x="1110.2" y="2367.7" font-size="39.0" fill="#1c10d0">+</text>
<text x="1110.2" y="2406.8" font-size="39.0" fill="#1c10d0">2</text>
<text x="1301.5" y="2396.2" font-size="58.5" fill="#000" letter-spacing="-0.5" class="th">2. 558</text>
<text x="1098.8" y="2502.9" font-size="58.5" fill="#000" class="th">5</text>
<text x="1126.8" y="2478.8" font-size="39.0" fill="#000">−</text>
<text x="1303.0" y="2503.4" font-size="58.5" fill="#000" letter-spacing="-0.5" class="th">2. 014</text>
<text x="1100.6" y="2579.6" font-size="58.5" fill="#1c10d0" class="th">2</text>
<text x="1128.6" y="2555.5" font-size="39.0" fill="#1c10d0">+</text>
<text x="1128.6" y="2594.6" font-size="39.0" fill="#1c10d0">2</text>
<text x="1305.5" y="2585.2" font-size="58.5" fill="#000" letter-spacing="-0.5" class="th">1. 874</text>
<text x="1102.1" y="2681.8" font-size="58.5" fill="#1c10d0" class="th">4</text>
<text x="1130.0" y="2657.7" font-size="39.0" fill="#1c10d0">+</text>
<text x="1302.5" y="2674.9" font-size="58.5" fill="#000" letter-spacing="-0.5" class="th">1. 520</text>
<text x="1096.1" y="2770.6" font-size="58.5" fill="#1c10d0" class="th">0</text>
<text x="1124.0" y="2746.5" font-size="39.0" fill="#1c10d0">+</text>
<text x="1124.0" y="2785.6" font-size="39.0" fill="#1c10d0">2</text>
<text x="1302.5" y="2768.7" font-size="58.5" fill="#000" letter-spacing="-0.5" class="th">1. 224</text>
<text x="1098.1" y="2865.4" font-size="58.5" fill="#1c10d0" class="th">2</text>
<text x="1126.1" y="2841.3" font-size="39.0" fill="#1c10d0">+</text>
<text x="1304.8" y="2862.9" font-size="58.5" fill="#000" letter-spacing="-0.5" class="th">0. 911</text>
<text x="1103.0" y="3125.5" font-size="58.5" fill="#1c10d0" class="th">0</text>
<text x="1130.9" y="3101.4" font-size="39.0" fill="#1c10d0">+</text>
<text x="1304.9" y="3123.0" font-size="58.5" fill="#000" letter-spacing="-0.5" class="th">0</text>
<text x="923.1" y="986.0" font-size="54.0" fill="#1c10d0" letter-spacing="0.6" class="bb">100/0</text>
<text x="912.1" y="1471.5" font-size="54.0" fill="#1c10d0" letter-spacing="0.6" class="bb">100/0</text>
<text x="912.5" y="2387.8" font-size="54.0" fill="#1c10d0" letter-spacing="0.6" class="bb">15/85</text>
<text x="911.6" y="2579.8" font-size="54.0" fill="#1c10d0" letter-spacing="0.6" class="bb">82/18</text>
<text x="909.4" y="2673.6" font-size="54.0" fill="#1c10d0" letter-spacing="0.6" class="bb">58/42</text>
<text x="909.7" y="2767.2" font-size="54.0" fill="#1c10d0" letter-spacing="0.6" class="bb">42/58</text>
<text x="908.5" y="2862.4" font-size="54.0" fill="#1c10d0" letter-spacing="0.6" class="bb">61/39</text>
<text x="912.9" y="3123.0" font-size="54.0" fill="#1c10d0" letter-spacing="0.6" class="bb">60/40</text>
<text x="835.8" y="3019.9" font-size="54.0" fill="#1c10d0" class="bb">(WI/WO πg</text>
<text x="1095.5" y="3033.0" font-size="35" fill="#1c10d0" class="bb">9/2</text>
<text x="1143.2" y="3019.9" font-size="54.0" fill="#1c10d0" class="bb">)</text>
</svg>
</body></html>
